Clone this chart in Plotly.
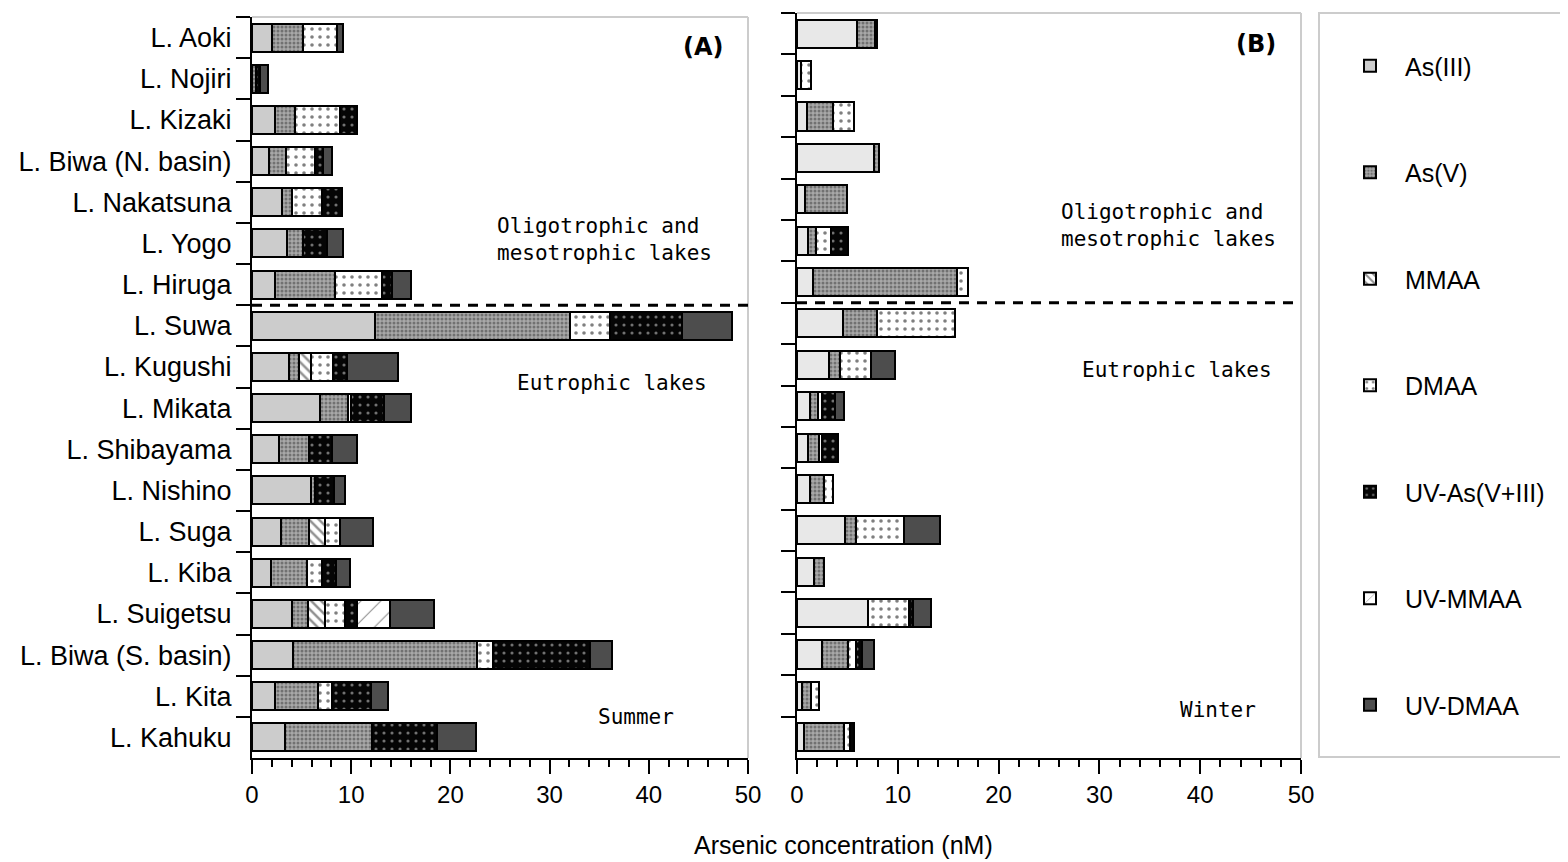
import plotly.graph_objects as go

lakes = ["L. Aoki", "L. Nojiri", "L. Kizaki", "L. Biwa (N. basin)", "L. Nakatsuna",
         "L. Yogo", "L. Hiruga", "L. Suwa", "L. Kugushi", "L. Mikata", "L. Shibayama",
         "L. Nishino", "L. Suga", "L. Kiba", "L. Suigetsu", "L. Biwa (S. basin)",
         "L. Kita", "L. Kahuku"]

species = ["As(III)", "As(V)", "MMAA", "DMAA", "UV-As(V+III)", "UV-MMAA", "UV-DMAA"]

# Summer (A), nM
as3_s = [2.0, 0, 2.35, 1.7, 3.0, 3.5, 2.3, 12.4, 3.7, 6.9, 2.7, 5.9, 2.9, 1.9, 4.0, 4.15, 2.35, 3.3]
as5_s = [3.1, 0.45, 2.0, 1.7, 1.0, 1.6, 6.1, 19.7, 1.0, 2.75, 3.0, 0.5, 2.8, 3.6, 1.6, 18.55, 4.3, 8.8]
mmaa_s = [0, 0, 0, 0, 0, 0, 0, 0, 1.2, 0, 0, 0, 1.7, 0, 1.8, 0, 0, 0]
dmaa_s = [3.5, 0, 4.5, 2.9, 3.1, 0, 4.7, 4.0, 2.25, 0.35, 0, 0, 1.5, 1.6, 1.95, 1.6, 1.4, 0]
uvas_s = [0, 0.35, 1.7, 0.85, 1.95, 2.45, 1.0, 7.2, 1.45, 3.35, 2.35, 1.9, 0, 1.35, 1.25, 9.75, 3.9, 6.5]
uvmmaa_s = [0, 0, 0, 0, 0, 0, 0, 0, 0, 0, 0, 0, 0, 0, 3.3, 0, 0, 0]
uvdmaa_s = [0.6, 0.8, 0, 0.9, 0, 1.6, 1.9, 5.1, 5.1, 2.7, 2.5, 1.1, 3.3, 1.4, 4.45, 2.2, 1.8, 4.0]

# Winter (B), nM
as3_w = [5.95, 0.4, 1.0, 7.65, 0.8, 1.1, 1.6, 4.6, 3.2, 1.25, 1.1, 1.3, 4.8, 1.65, 7.05, 2.5, 0.45, 0.7]
as5_w = [1.8, 0, 2.6, 0.5, 4.2, 0.8, 14.3, 3.3, 1.05, 0.8, 1.05, 1.4, 1.1, 1.0, 0, 2.6, 0.9, 3.95]
mmaa_w = [0] * 18
dmaa_w = [0, 1.0, 2.05, 0, 0, 1.45, 1.05, 7.8, 3.05, 0.45, 0.35, 0.9, 4.75, 0, 4.05, 0.8, 0.85, 0.65]
uvas_w = [0, 0, 0, 0, 0, 1.7, 0, 0, 0, 1.25, 1.6, 0, 0, 0, 0.4, 0.55, 0, 0.35]
uvmmaa_w = [0] * 18
uvdmaa_w = [0.15, 0, 0, 0, 0, 0, 0, 0, 2.4, 0.95, 0, 0, 3.55, 0, 1.75, 1.15, 0, 0]

summer = [as3_s, as5_s, mmaa_s, dmaa_s, uvas_s, uvmmaa_s, uvdmaa_s]
winter = [as3_w, as5_w, mmaa_w, dmaa_w, uvas_w, uvmmaa_w, uvdmaa_w]


def style(i, panel):
    if i == 0:
        return dict(color="#cccccc" if panel == "A" else "#e8e8e8")
    if i == 1:
        return dict(color="#999999", pattern=dict(shape=".", bgcolor="#a8a8a8", fgcolor="#3a3a3a",
                                                  size=4, solidity=0.45))
    if i == 2:
        return dict(color="white", pattern=dict(shape="\\", bgcolor="white", fgcolor="#222222",
                                                size=7, solidity=0.35))
    if i == 3:
        return dict(color="white", pattern=dict(shape=".", bgcolor="white", fgcolor="#000000",
                                                size=8, solidity=0.16))
    if i == 4:
        return dict(color="black", pattern=dict(shape=".", bgcolor="#050505", fgcolor="#e0e0e0",
                                                size=8, solidity=0.12))
    if i == 5:
        return dict(color="white", pattern=dict(shape="/", bgcolor="white", fgcolor="#222222",
                                                size=14, solidity=0.08))
    return dict(color="#4d4d4d")


fig = go.Figure()

for panel, data, xa, ya in [("A", summer, "x", "y"), ("B", winter, "x2", "y2")]:
    for i, (name, vals) in enumerate(zip(species, data)):
        st = style(i, panel)
        marker = dict(color=st["color"], line=dict(color="black", width=2))
        if "pattern" in st:
            marker["pattern"] = st["pattern"]
        fig.add_trace(go.Bar(
            y=lakes, x=[v if v else None for v in vals], orientation="h",
            name=name, marker=marker, width=0.68,
            xaxis=xa, yaxis=ya, legendgroup=name,
            showlegend=(panel == "A"), hoverinfo="x+y+name",
        ))

# page has an 8px body margin: figure coordinates = page coordinates - 8
OFF = 8
W, H = 1568 - OFF, 862 - OFF
L, R, T, B = 252 - OFF, 0, 13 - OFF, 104
pw = W - L - R
ph = H - T - B


def px(x):
    return (x - OFF - L) / pw


def py(y):
    return (H - B - (y - OFF)) / ph


tickfont = dict(family="Liberation Sans, Arial, sans-serif", size=24, color="black")
catfont = dict(family="Liberation Sans, Arial, sans-serif", size=27, color="black")

xcommon = dict(range=[0, 50], dtick=10, showline=True, linecolor="black", linewidth=2,
               ticks="outside", ticklen=14, tickwidth=1.5, tickcolor="black",
               minor=dict(dtick=2, ticks="outside", ticklen=7, tickwidth=1.5, tickcolor="black"),
               showgrid=False, zeroline=False, tickfont=tickfont, fixedrange=True,
               automargin=False)
ycommon = dict(categoryorder="array", categoryarray=lakes, range=[17.5, -0.5],
               showline=True, linecolor="black", linewidth=2, ticks="outside",
               tickson="boundaries", ticklen=14, tickwidth=1.5, tickcolor="black",
               showgrid=False, zeroline=False, fixedrange=True, automargin=False)

fig.update_layout(
    width=W, height=H,
    margin=dict(l=L, r=R, t=T, b=B, autoexpand=False),
    plot_bgcolor="white", paper_bgcolor="white",
    barmode="stack",
    xaxis=dict(domain=[0, px(748)], anchor="y", **xcommon),
    xaxis2=dict(domain=[px(797), px(1301)], anchor="y2", **xcommon),
    yaxis=dict(domain=[0, py(17)], anchor="x", tickfont=catfont, ticklabelstandoff=13, **ycommon),
    yaxis2=dict(domain=[0, 1], anchor="x2", showticklabels=False, **ycommon),
    legend=dict(x=px(1335), y=py(43), xanchor="left", yanchor="top",
                borderwidth=0, bgcolor="rgba(0,0,0,0)",
                font=dict(family="Liberation Sans, Arial, sans-serif", size=25, color="black"),
                traceorder="grouped", tracegroupgap=71, itemwidth=60),
    showlegend=True,
)

# panel frames (light grey top/right borders)
grey = dict(color="#cccccc", width=2)
for xr, yr in [("x domain", "y domain"), ("x2 domain", "y2 domain")]:
    fig.add_shape(type="line", xref=xr, yref=yr, x0=0, x1=1, y0=1, y1=1, line=grey)
    fig.add_shape(type="line", xref=xr, yref=yr, x0=1, x1=1, y0=0, y1=1, line=grey)

# legend frame
fig.add_shape(type="rect", xref="paper", yref="paper", x0=px(1319), x1=px(1575),
              y0=py(757), y1=py(13), line=grey, fillcolor="rgba(0,0,0,0)", layer="below")

# dashed separator between oligo/mesotrophic and eutrophic lakes
for xr, yr in [("x domain", "y"), ("x2 domain", "y2")]:
    fig.add_shape(type="line", xref=xr, yref=yr, x0=0, x1=1, y0=6.5, y1=6.5,
                  line=dict(color="black", width=3, dash="10px,8px"))

annfont = dict(family="DejaVu Sans Mono, monospace", size=21, color="black")
boldfont = dict(family="DejaVu Sans, sans-serif", size=24, color="black")


def ann(text, x, y, font):
    fig.add_annotation(text=text, x=px(x), y=py(y), xref="paper", yref="paper",
                       showarrow=False, font=font, xanchor="center", yanchor="middle",
                       align="left")


ann("<b>(A)</b>", 703, 47, boldfont)
ann("<b>(B)</b>", 1256, 44, boldfont)
ann("Oligotrophic and<br>mesotrophic lakes", 604, 240, annfont)
ann("Oligotrophic and<br>mesotrophic lakes", 1168, 226, annfont)
ann("Eutrophic lakes", 612, 383, annfont)
ann("Eutrophic lakes", 1177, 370, annfont)
ann("Summer", 636, 717, annfont)
ann("Winter", 1218, 710, annfont)

fig.add_annotation(text="Arsenic concentration (nM)", x=px(843), y=py(845),
                   xref="paper", yref="paper", showarrow=False,
                   font=dict(family="Liberation Sans, Arial, sans-serif", size=25, color="black"),
                   xanchor="center", yanchor="middle")

fig.write_html("out.html")
